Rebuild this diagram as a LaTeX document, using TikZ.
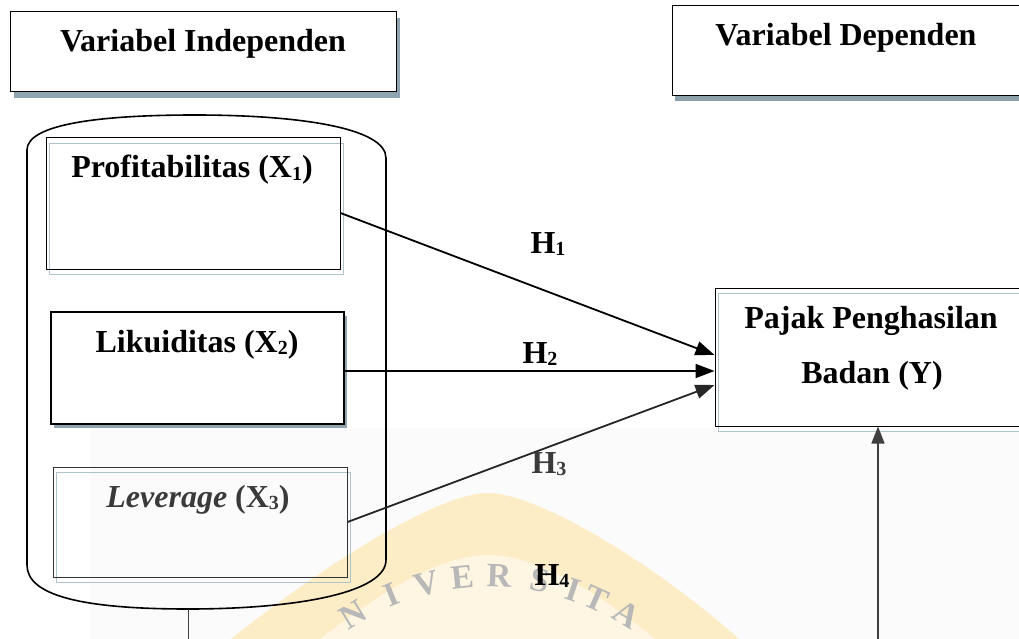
\documentclass[tikz,border=0pt]{standalone}
\usepackage{fontspec}
\setmainfont{Liberation Serif}
\usetikzlibrary{arrows.meta,calc}
\definecolor{shadowblue}{HTML}{8EA5AF}
\definecolor{ghost}{HTML}{AFC3CB}
\definecolor{wmyellow}{HTML}{FCEDC6}
\definecolor{wminner}{HTML}{FEF6E2}
\definecolor{fadebg}{HTML}{FBFBFB}
\definecolor{fadetext}{HTML}{3A3A3A}
\newcommand{\subd}[1]{\raisebox{-2.5pt}{\fontsize{20}{20}\selectfont #1}}
\begin{document}
\begin{tikzpicture}[x=1pt,y=-1pt,
  font=\fontsize{32}{38}\selectfont\bfseries,
  lbl/.style={anchor=base,inner sep=0pt},
  boxthin/.style={draw=black,line width=1pt,inner sep=0pt},
  boxthick/.style={draw=black,line width=1.8pt,inner sep=0pt},
  ghostbox/.style={draw=ghost,line width=0.9pt},
  arr/.style={line width=1.8pt,-{Triangle[length=19pt,width=14pt]}},
  arrY/.style={draw=black!75,line width=1.5pt,-{Triangle[length=17pt,width=13pt]}},
  wmletter/.style={text=black!28,font=\fontsize{34}{34}\selectfont\bfseries,inner sep=0pt}]
\path[use as bounding box] (0,0) rectangle (1019,639);
\clip (0,0) rectangle (1019,639);
% faded watermark background
\fill[fadebg] (90,428) rectangle (1019,639);
\fill[wmyellow] (231,639) .. controls (330,560) and (440,493) .. (488,493)
  .. controls (536,493) and (650,560) .. (739,639) -- cycle;
\fill[wminner] (320,639) .. controls (390,585) and (445,555) .. (488,555)
  .. controls (531,555) and (590,585) .. (655,639) -- cycle;
\foreach \ch/\ang [count=\i from 0] in {N/121.5,I/112,V/104,E/96,R/88,S/79,I/71.5,T/66,A/58.5}{
  \node[wmletter,rotate=\ang-90] (wm\i) at ({490+262*cos(\ang)},{838-262*sin(\ang)}) {\ch};
}
% header boxes
\fill[shadowblue] (14,18) rectangle (400,98);
\node[boxthin,fill=white,minimum width=386pt,minimum height=80pt] (vi) at (203,52) {};
\fill[shadowblue!90!gray] (675,96) rectangle (1030,101);
\node[boxthin,fill=white,minimum width=368pt,minimum height=90pt] (vd) at (856,51) {};
\node[lbl] (tvi) at (203,52) {Variabel Independen};
\node[lbl] (tvd) at (846,46) {Variabel Dependen};
% container
\draw[line width=1.6pt] (27,565) -- (27,150)
  .. controls (27,126) and (90,115) .. (195,115)
  .. controls (300,115) and (386,128) .. (386,158)
  -- (386,560)
  .. controls (386,592) and (300,609) .. (188,609)
  .. controls (80,609) and (27,595) .. (27,565);
% independent variable boxes
\draw[ghostbox] (49,143) rectangle (343,274);
\node[boxthin,minimum width=294pt,minimum height=131pt] (prof) at (193,203.5) {};
\fill[shadowblue] (54,316) rectangle (347,428);
\node[boxthick,fill=white,minimum width=293pt,minimum height=112pt] (lik) at (197.5,368) {};
\draw[ghostbox] (56,472) rectangle (350,582);
\node[draw=black!80,line width=1pt,inner sep=0pt,minimum width=294pt,minimum height=110pt] (lev) at (200,522) {};
\node[lbl] (tprof) at (192,178) {Profitabilitas (X\subd{1})};
\node[lbl] (tlik) at (197,352) {Likuiditas (X\subd{2})};
\node[lbl,text=fadetext] (tlev) at (198,507) {\textit{Leverage} (X\subd{3})};
% dependent box
\draw[ghostbox] (718,293) rectangle (1040,431);
\node[boxthin,minimum width=325pt,minimum height=138pt] (paj) at (877.5,357) {};
\node[lbl] (tpaj1) at (871,328) {Pajak Penghasilan};
\node[lbl] (tpaj2) at (872,383) {Badan (Y)};
% arrows
\draw[arr] ([yshift=-9.5pt]prof.east) -- ([yshift=2pt]paj.west);
\draw[arr] ([yshift=-3pt]lik.east) -- ([yshift=-14pt]paj.west);
\draw[arr,draw=black!85] (lev.east) -- ([yshift=-28pt]paj.west);
% hypothesis labels
\node[lbl] (h1) at (548,253) {H\subd{1}};
\node[lbl] (h2) at (540,363) {H\subd{2}};
\node[lbl,text=fadetext] (h3) at (549,473) {H\subd{3}};
\node[lbl] (h4) at (552,585) {H\subd{4}};
% lines leaving the picture at the bottom
\coordinate (cb) at (188,609);
\coordinate (cbe) at (188,650);
\draw[black!75,line width=1pt] (cb) -- (cbe);
\coordinate (yb) at (878,650);
\draw[arrY] (yb) -- (yb |- paj.south);
\end{tikzpicture}
\end{document}
